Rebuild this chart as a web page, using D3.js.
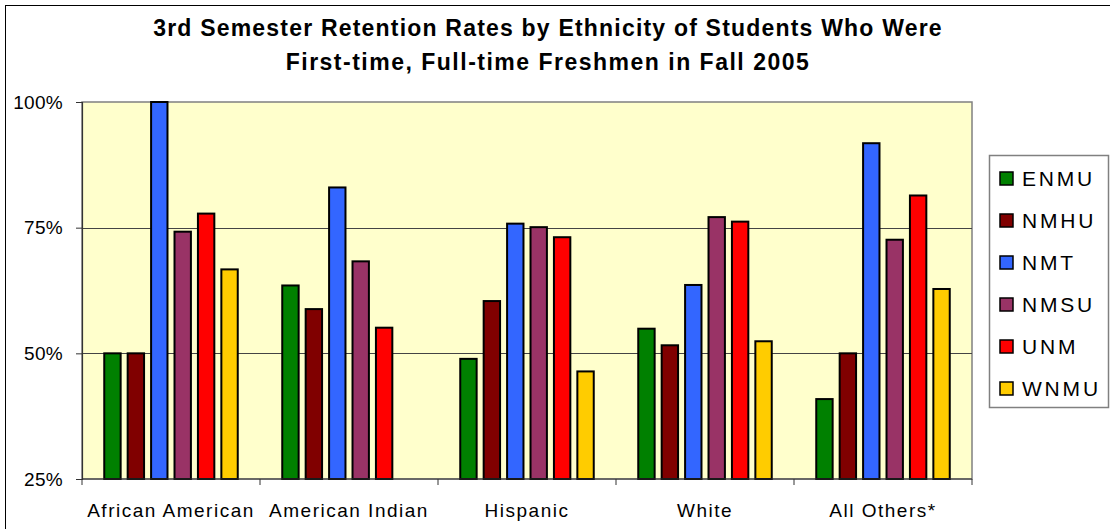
<!DOCTYPE html>
<html lang="en">
<head>
    <meta charset="UTF-8">
    <title>3rd Semester Retention Rates</title>
    <script src="https://d3js.org/d3.v7.min.js"></script>
    <style>
        body { margin: 0; background: #fff; }
        svg { display: block; font-family: "Liberation Sans", Arial, sans-serif; }
    </style>
</head>
<body>
    <svg id="chart"></svg>
    <script>
        const categories = ["African American", "American Indian", "Hispanic", "White", "All Others*"];
        const series = ["ENMU", "NMHU", "NMT", "NMSU", "UNM", "WNMU"];
        const seriesColors = ["#008000", "#800000", "#3366FF", "#993366", "#FF0000", "#FFCC00"];
        // values per series, in category order (null = no bar)
        const ENMU = [0.500, 0.635, 0.489, 0.549, 0.409];
        const NMHU = [0.500, 0.588, 0.604, 0.516, 0.500];
        const NMT  = [1.000, 0.830, 0.758, 0.636, 0.918];
        const NMSU = [0.742, 0.683, 0.751, 0.771, 0.726];
        const UNM  = [0.778, 0.551, 0.731, 0.762, 0.814];
        const WNMU = [0.667, null, 0.464, 0.524, 0.628];
        const yTicks = [0.25, 0.5, 0.75, 1.0];
        const titleLines = ["3rd Semester Retention Rates by Ethnicity of Students Who Were",
                            "First-time, Full-time Freshmen in Fall 2005"];

        const values = [ENMU, NMHU, NMT, NMSU, UNM, WNMU];
        const data = [];
        series.forEach((s, i) => {
            values[i].forEach((v, j) => {
                if (v !== null) data.push({ series: s, cat: categories[j], value: v });
            });
        });

        const W = 1110, H = 529;
        const plot = { left: 82, right: 972, top: 102, bottom: 479 };

        const svg = d3.select("#chart").attr("width", W).attr("height", H);

        // outer chart border
        svg.append("rect")
           .attr("x", 5.5).attr("y", 5.5)
           .attr("width", W + 10).attr("height", H + 10)
           .attr("fill", "none").attr("stroke", "#000").attr("stroke-width", 1);

        const x0 = d3.scaleBand()
                     .domain(categories)
                     .range([plot.left, plot.right])
                     .padding(0);

        const x1 = d3.scaleBand()
                     .domain(series)
                     .range([0, x0.bandwidth()])
                     .paddingInner(0.3)
                     .paddingOuter(0.95);

        const y = d3.scaleLinear()
                    .domain([0.25, 1])
                    .range([plot.bottom, plot.top]);

        const color = d3.scaleOrdinal().domain(series).range(seriesColors);

        // plot background
        svg.append("rect")
           .attr("x", plot.left).attr("y", plot.top)
           .attr("width", plot.right - plot.left).attr("height", plot.bottom - plot.top)
           .attr("fill", "#FFFFCC").attr("stroke", "#808080").attr("stroke-width", 1.5);

        // gridlines
        svg.append("g")
           .selectAll("line")
           .data(yTicks.filter(t => t > 0.25 && t < 1))
           .enter()
           .append("line")
           .attr("x1", plot.left).attr("x2", plot.right)
           .attr("y1", d => Math.round(y(d)) + 0.5).attr("y2", d => Math.round(y(d)) + 0.5)
           .attr("stroke", "#444").attr("stroke-width", 1);

        // bars
        svg.selectAll(".bar")
           .data(data)
           .enter()
           .append("rect")
           .attr("class", "bar")
           .attr("x", d => x0(d.cat) + x1(d.series))
           .attr("y", d => y(d.value))
           .attr("width", x1.bandwidth())
           .attr("height", d => y(0.25) - y(d.value))
           .attr("fill", d => color(d.series))
           .attr("stroke", "#000")
           .attr("stroke-width", 2);

        // y axis
        const yAxis = svg.append("g")
           .attr("transform", `translate(${plot.left},0)`)
           .call(d3.axisLeft(y).tickValues(yTicks).tickFormat(d3.format(".0%")).tickSize(6).tickPadding(13));
        yAxis.select(".domain").attr("stroke", "#333").attr("stroke-width", 1.2);
        yAxis.selectAll(".tick line").attr("stroke", "#333");
        yAxis.selectAll("text")
             .attr("font-size", 19)
             .attr("letter-spacing", 0.3)
             .attr("fill", "#000")
             .attr("font-family", "Liberation Sans, Arial, sans-serif");

        // x axis: ticks on category boundaries
        const xAxis = svg.append("g")
           .attr("transform", `translate(0,${plot.bottom})`);
        xAxis.append("line")
             .attr("x1", plot.left).attr("x2", plot.right)
             .attr("stroke", "#333").attr("stroke-width", 1.2);
        xAxis.selectAll(".btick")
             .data(categories.concat(["end"]))
             .enter()
             .append("line")
             .attr("class", "btick")
             .attr("x1", (d, i) => i < categories.length ? x0(d) : plot.right)
             .attr("x2", (d, i) => i < categories.length ? x0(d) : plot.right)
             .attr("y1", 0).attr("y2", 6)
             .attr("stroke", "#333");
        xAxis.selectAll(".xlabel")
             .data(categories)
             .enter()
             .append("text")
             .attr("class", "xlabel")
             .attr("x", d => x0(d) + x0.bandwidth() / 2)
             .attr("y", 38)
             .attr("text-anchor", "middle")
             .attr("font-size", 19)
             .attr("letter-spacing", 1.5)
             .text(d => d);

        // title
        svg.selectAll(".title")
           .data(titleLines)
           .enter()
           .append("text")
           .attr("class", "title")
           .attr("x", 548)
           .attr("y", (d, i) => 36 + i * 34)
           .attr("text-anchor", "middle")
           .attr("font-size", 23)
           .attr("font-weight", "bold")
           .attr("letter-spacing", (d, i) => i === 0 ? 1.2 : 1.5)
           .text(d => d);

        // legend
        const lg = svg.append("g").attr("transform", "translate(989,155)");
        lg.append("rect")
          .attr("x", 0.5).attr("y", 0.5)
          .attr("width", 119).attr("height", 252)
          .attr("fill", "#fff").attr("stroke", "#808080").attr("stroke-width", 1.5);
        const item = lg.selectAll(".legend")
                       .data(series)
                       .enter()
                       .append("g")
                       .attr("class", "legend")
                       .attr("transform", (_, i) => `translate(0,${23 + 42 * i})`);
        item.append("rect")
            .attr("x", 11).attr("y", -6)
            .attr("width", 13).attr("height", 13)
            .attr("fill", d => color(d))
            .attr("stroke", "#000").attr("stroke-width", 1.5);
        item.append("text")
            .attr("x", 33)
            .attr("y", 8)
            .attr("font-size", 21)
            .attr("letter-spacing", 2.8)
            .text(d => d);
    </script>
</body>
</html>
